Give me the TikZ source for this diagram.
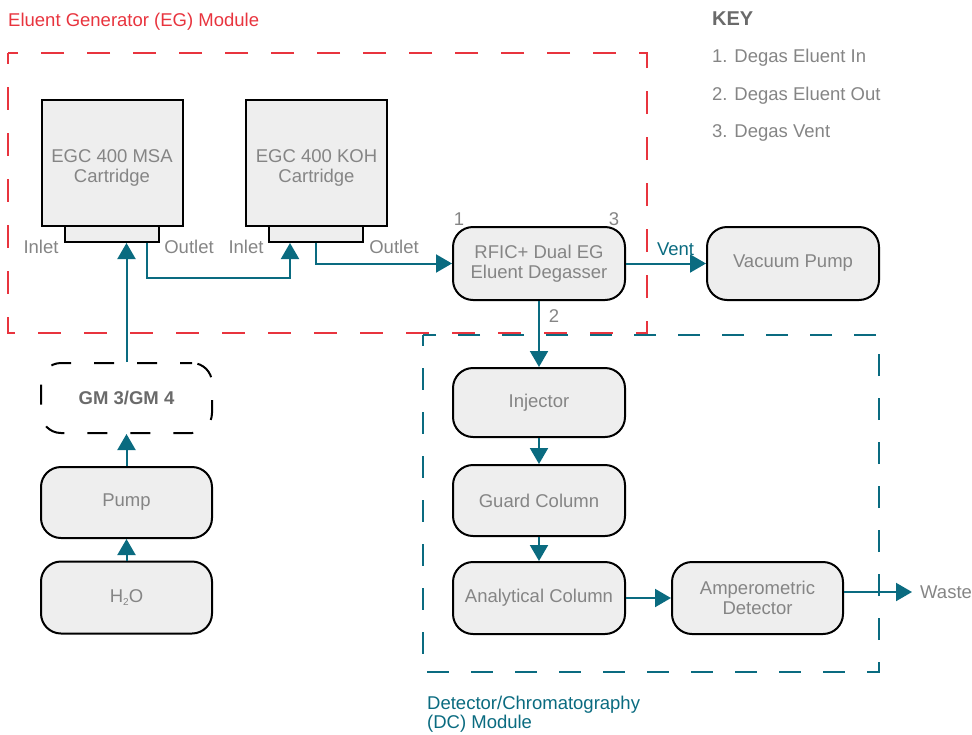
\documentclass[tikz,border=0pt]{standalone}
\usepackage{fontspec}
\setmainfont{Liberation Sans}
\usetikzlibrary{arrows.meta}
\definecolor{teal1}{HTML}{0A6B80}
\definecolor{egred}{HTML}{E8343E}
\definecolor{boxfill}{HTML}{EEEEEE}
\definecolor{txtgray}{HTML}{858585}
\definecolor{keygray}{HTML}{6A6A6A}
\begin{document}
\begin{tikzpicture}[x=1pt,y=-1pt,
  every node/.style={font=\fontsize{18.5}{20}\selectfont, text=txtgray},
  cart/.style={draw=black, line width=2pt, fill=boxfill, minimum width=141, minimum height=126, inner sep=0pt},
  conn/.style={draw=black, line width=2pt, fill=boxfill, minimum width=94, minimum height=16, inner sep=0pt},
  rbox/.style={draw=black, line width=2pt, fill=boxfill, rounded corners=20pt, minimum width=172, minimum height=71, inner sep=0pt, align=center},
  gmbox/.style={draw=black, line width=2pt, rounded corners=20pt, dash pattern=on 20pt off 23pt, dash phase=8pt, minimum width=171, minimum height=70, inner sep=0pt},
  flow/.style={draw=teal1, line width=2pt, -{Triangle[width=18pt,length=16pt]}},
  lbl/.style={inner sep=0pt, yshift=-2pt}
]
\useasboundingbox (0,0) rectangle (972,734);

% module frames
\draw[egred, line width=2pt, dash pattern=on 23pt off 23pt, dash phase=12pt] (8,53) rectangle (647,333);
\node[lbl, text=egred, anchor=west] (egtitle) at (8,20) {Eluent Generator (EG) Module};
\draw[teal1, line width=2pt, dash pattern=on 22pt off 22pt, dash phase=11pt] (423,335) rectangle (879,672);
\node[inner sep=0pt, text=teal1, anchor=north west, align=left, font=\fontsize{18.5}{19}\selectfont] (dctitle) at (427,696) {Detector/Chromatography\\(DC) Module};

% key
\node[lbl, anchor=west, text=keygray, font=\fontsize{20}{22}\selectfont\bfseries] (key) at (712,17) {KEY};
\node[lbl, anchor=west] (k1) at (712,56) {1. Degas Eluent In};
\node[lbl, anchor=west] (k2) at (712,94) {2. Degas Eluent Out};
\node[lbl, anchor=west] (k3) at (712,131) {3. Degas Vent};

% cartridges
\node[cart] (msa) at (112,163) {};
\node[lbl, align=center] (msalabel) at (112,165.5) {EGC 400 MSA\\Cartridge};
\node[conn] (msacon) at (112,234) {};
\node[cart] (koh) at (316.5,163) {};
\node[lbl, align=center] (kohlabel) at (316.5,165.5) {EGC 400 KOH\\Cartridge};
\node[conn] (kohcon) at (316,234) {};
\node[lbl] (msain) at (41,245) {Inlet};
\node[lbl] (msaout) at (189,245) {Outlet};
\node[lbl] (kohin) at (246,245) {Inlet};
\node[lbl] (kohout) at (394,245) {Outlet};

% degasser and vacuum pump
\node[rbox, minimum height=73] (deg) at (539,263.5) {RFIC+ Dual EG\\Eluent Degasser};
\node[rbox, minimum height=73] (vac) at (793,263.5) {Vacuum Pump};
\node[lbl] (p1) at (459,217) {1};
\node[lbl] (p3) at (614,217) {3};
\node[lbl] (p2) at (554,314) {2};

% DC module boxes
\node[rbox, minimum height=69] (inj) at (539,402.5) {Injector};
\node[rbox] (guard) at (539,500.5) {Guard Column};
\node[rbox, minimum height=72] (anal) at (539,598) {Analytical Column};
\node[rbox, minimum width=171, minimum height=72] (amp) at (757.5,598) {Amperometric\\Detector};
\coordinate (wasteend) at (912,592);
\node[inner sep=0pt, anchor=west] (waste) at (920,592) {Waste};

% left column
\node[gmbox] (gm) at (126.5,398) {\textcolor{keygray}{\bfseries GM 3/GM 4}};
\node[rbox, minimum width=171] (pump) at (126.5,502.5) {Pump};
\node[rbox, minimum width=171, minimum height=72] (h2o) at (126.5,597.5) {H\raisebox{-0.35ex}{\fontsize{10}{10}\selectfont 2}O};

% connectors
\draw[flow] (h2o.north) -- (pump.south);
\draw[flow] (pump.north) -- (gm.south);
\draw[flow] (gm.north) -- (gm.north |- msacon.south);
\coordinate (msaoutpt) at ([xshift=35pt]msacon.south);
\coordinate (kohinpt) at ([xshift=-26pt]kohcon.south);
\coordinate (kohoutpt) at (kohcon.south);
\draw[flow] (msaoutpt) -- ++(0,35) -| (kohinpt);
\draw[flow] (kohoutpt) |- (deg.west);
\draw[flow] (deg.east) -- node[lbl, above=9pt, pos=0.62, text=teal1] (vent) {Vent} (vac.west);
\draw[flow] (deg.south) -- (inj.north);
\draw[flow] (inj.south) -- (guard.north);
\draw[flow] (guard.south) -- (anal.north);
\draw[flow] (anal.east) -- (amp.west);
\draw[flow] (amp.east |- wasteend) -- (wasteend);
\end{tikzpicture}
\end{document}
